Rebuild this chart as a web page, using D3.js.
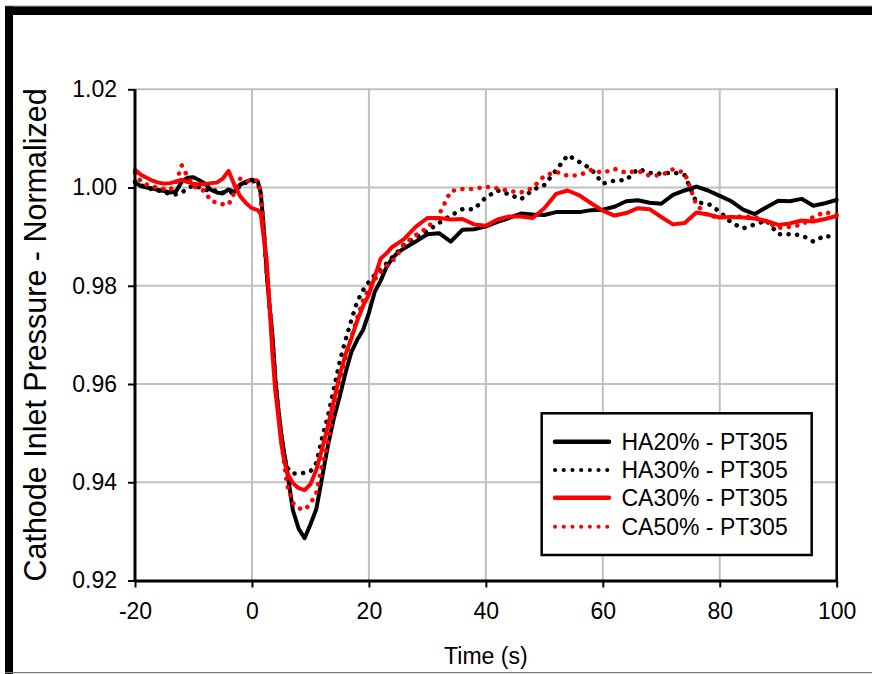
<!DOCTYPE html>
<html>
<head>
<meta charset="utf-8">
<script src="https://cdn.jsdelivr.net/npm/d3@7"></script>
<style>
body { margin: 0; background: #fff; }
svg text { font-family: "Liberation Sans", Arial, sans-serif; fill: #000; }
</style>
</head>
<body>
<div id="chart"></div>
<script>
// time axis (s), shared by all four series
var time = [-20, -19, -18, -17, -16, -15, -14, -13, -12, -11, -10, -9, -8, -7, -6, -5, -4, -3, -2, -1, 0, 1,
	1.5, 2, 2.5, 3, 3.5, 4, 4.5, 5, 5.5, 6, 7, 8, 9, 10, 11, 12, 13, 14, 15, 16, 17, 18, 19, 20, 21, 22, 23, 24, 25, 26,
	28, 30, 32, 34, 36, 38, 40, 42, 44, 46, 48, 50, 52, 54, 56, 58, 60, 62, 64, 66, 68, 70, 72, 74, 76, 78, 80,
	82, 84, 86, 88, 90, 92, 94, 96, 98, 100];

var ha20 = [1.0010, 1.0003, 1.0000, 0.9998, 0.9995, 0.9993, 0.9990, 0.9992, 1.0012, 1.0020, 1.0021, 1.0015, 1.0008,
	0.9995, 0.9990, 0.9988, 0.9996, 0.9991, 1.0006, 1.0012, 1.0016, 1.0012,
	0.9990, 0.9920, 0.9830, 0.9760, 0.9700, 0.9610, 0.9550, 0.9500, 0.9460, 0.9425, 0.9343, 0.9305, 0.9286, 0.9314,
	0.9345, 0.9410, 0.9475, 0.9530, 0.9574, 0.9623, 0.9665, 0.9690, 0.9710, 0.9745, 0.9788, 0.9810, 0.9838, 0.9856,
	0.9868, 0.9876,
	0.9890, 0.9905, 0.9907, 0.9890, 0.9914, 0.9915, 0.9921, 0.9930, 0.9938, 0.9947, 0.9945, 0.9944, 0.9950, 0.9950,
	0.9950, 0.9954, 0.9955, 0.9961, 0.9972, 0.9974, 0.9969, 0.9967, 0.9985, 0.9994, 1.0002, 0.9994, 0.9983,
	0.9972, 0.9955, 0.9946, 0.9960, 0.9973, 0.9972, 0.9977, 0.9963, 0.9968, 0.9975];

var ha30 = [1.0012, 1.0005, 1.0000, 0.9996, 0.9994, 0.9990, 0.9987, 0.9986, 0.9990, 0.9998, 1.0005, 1.0000, 0.9996,
	0.9992, 0.9995, 0.9990, 0.9988, 0.9993, 1.0003, 1.0010, 1.0014, 1.0010,
	0.9985, 0.9915, 0.9830, 0.9760, 0.9690, 0.9610, 0.9545, 0.9495, 0.9455, 0.9430, 0.9418, 0.9418, 0.9419, 0.9422,
	0.9439, 0.9490, 0.9535, 0.9590, 0.9645, 0.9690, 0.9730, 0.9768, 0.9791, 0.9808, 0.9822, 0.9834, 0.9845, 0.9858,
	0.9870, 0.9884,
	0.9898, 0.9912, 0.9928, 0.9943, 0.9956, 0.9956, 0.9980, 0.9994, 0.9986, 0.9976, 0.9995, 1.0005, 1.0035, 1.0066,
	1.0052, 1.0038, 1.0008, 1.0014, 1.0015, 1.0038, 1.0030, 1.0028, 1.0031, 1.0025, 0.9970, 0.9967, 0.9951,
	0.9928, 0.9917, 0.9925, 0.9933, 0.9905, 0.9905, 0.9903, 0.9890, 0.9902, 0.9897];

var ca30 = [1.0036, 1.0026, 1.0020, 1.0014, 1.0010, 1.0008, 1.0009, 1.0012, 1.0016, 1.0011, 1.0008, 1.0006, 1.0007,
	1.0009, 1.0010, 1.0018, 1.0034, 1.0005, 0.9982, 0.9968, 0.9958, 0.9954,
	0.9946, 0.9900, 0.9855, 0.9760, 0.9662, 0.9585, 0.9535, 0.9480, 0.9445, 0.9420, 0.9398, 0.9388, 0.9384, 0.9396,
	0.9425, 0.9468, 0.9515, 0.9566, 0.9618, 0.9660, 0.9693, 0.9729, 0.9759, 0.9782, 0.9818, 0.9855, 0.9866, 0.9879,
	0.9887, 0.9895,
	0.9920, 0.9938, 0.9938, 0.9935, 0.9936, 0.9925, 0.9922, 0.9935, 0.9941, 0.9941, 0.9938, 0.9958, 0.9987, 0.9994,
	0.9984, 0.9968, 0.9953, 0.9943, 0.9948, 0.9958, 0.9956, 0.9940, 0.9925, 0.9928, 0.9949, 0.9945, 0.9939,
	0.9940, 0.9939, 0.9937, 0.9932, 0.9924, 0.9927, 0.9933, 0.9931, 0.9936, 0.9942];

var ca50 = [1.0030, 1.0012, 1.0006, 1.0002, 1.0000, 0.9997, 0.9995, 1.0010, 1.0045, 1.0022, 1.0002, 0.9998, 0.9992,
	0.9972, 0.9970, 0.9966, 0.9965, 0.9990, 1.0018, 1.0012, 1.0015, 1.0014,
	0.9990, 0.9920, 0.9840, 0.9765, 0.9685, 0.9605, 0.9540, 0.9490, 0.9440, 0.9395, 0.9358, 0.9347, 0.9344, 0.9356,
	0.9378, 0.9435, 0.9480, 0.9550, 0.9610, 0.9652, 0.9695, 0.9735, 0.9770, 0.9795, 0.9813, 0.9828, 0.9839, 0.9850,
	0.9865, 0.9885,
	0.9903, 0.9918, 0.9945, 0.9993, 0.9997, 0.9997, 1.0002, 0.9998, 0.9993, 0.9990, 0.9999, 1.0024, 1.0032, 1.0024,
	1.0025, 1.0036, 1.0030, 1.0038, 1.0030, 1.0034, 1.0024, 1.0025, 1.0037, 1.0030, 0.9965, 0.9942, 0.9940,
	0.9940, 0.9941, 0.9940, 0.9930, 0.9918, 0.9920, 0.9924, 0.9940, 0.9950, 0.9944];

var seriesNames = ["HA20% - PT305", "HA30% - PT305", "CA30% - PT305", "CA50% - PT305"];
var seriesValues = [ha20, ha30, ca30, ca50];
var seriesColors = ["#000000", "#000000", "#ff0000", "#ff0000"];
var seriesDotted = [false, true, false, true];

var xTicks = [-20, 0, 20, 40, 60, 80, 100];
var yTicks = [0.92, 0.94, 0.96, 0.98, 1.00, 1.02];

var width = 872, height = 674;
var plot = { left: 135, right: 836.7, top: 89.3, bottom: 580.5 };

var svg = d3.select("#chart").append("svg")
	.attr("width", width)
	.attr("height", height);

// outer frame: thick black bars top and left, thin grey edges
svg.append("rect").attr("x", 5).attr("y", 5.5).attr("width", width - 5).attr("height", 1.2).attr("fill", "#999");
svg.append("rect").attr("x", 5).attr("y", 6.5).attr("width", width - 5).attr("height", 8.5).attr("fill", "#000");
svg.append("rect").attr("x", 5).attr("y", 6.5).attr("width", 8).attr("height", height - 6.5).attr("fill", "#000");
svg.append("rect").attr("x", 5).attr("y", 672).attr("width", width - 5).attr("height", 1.2).attr("fill", "#777");

var x = d3.scaleLinear().domain([-20, 100]).range([plot.left, plot.right]);
var y = d3.scaleLinear().domain([0.92, 1.02]).range([plot.bottom, plot.top]);

// grid
svg.append("g").selectAll("line")
	.data(xTicks.slice(1, -1))
	.enter().append("line")
	.attr("x1", function (d) { return x(d); })
	.attr("x2", function (d) { return x(d); })
	.attr("y1", plot.top)
	.attr("y2", plot.bottom)
	.attr("stroke", "#c0c0c0")
	.attr("stroke-width", 2);

svg.append("g").selectAll("line")
	.data(yTicks.slice(1))
	.enter().append("line")
	.attr("x1", plot.left)
	.attr("x2", plot.right)
	.attr("y1", function (d) { return y(d); })
	.attr("y2", function (d) { return y(d); })
	.attr("stroke", "#c0c0c0")
	.attr("stroke-width", 2);

// right border of plot area
svg.append("line")
	.attr("x1", plot.right).attr("x2", plot.right)
	.attr("y1", plot.top - 1).attr("y2", plot.bottom)
	.attr("stroke", "#000").attr("stroke-width", 2.5);

// series
var line = d3.line()
	.x(function (d) { return x(d[0]); })
	.y(function (d) { return y(d[1]); });

seriesValues.forEach(function (vals, i) {
	var pts = time.map(function (t, j) { return [t, vals[j]]; });
	svg.append("path")
		.datum(pts)
		.attr("d", line)
		.attr("fill", "none")
		.attr("stroke", seriesColors[i])
		.attr("stroke-width", seriesDotted[i] ? 4.5 : 4)
		.attr("stroke-linecap", "round")
		.attr("stroke-linejoin", "round")
		.attr("stroke-dasharray", seriesDotted[i] ? "0.1 8.5" : null);
});

// axes
var yAxis = svg.append("g")
	.attr("transform", "translate(" + plot.left + ",0)")
	.call(d3.axisLeft(y).tickValues(yTicks).tickSize(7).tickSizeOuter(0).tickPadding(11)
		.tickFormat(function (d) { return d.toFixed(2); }));

var xAxis = svg.append("g")
	.attr("transform", "translate(0," + plot.bottom + ")")
	.call(d3.axisBottom(x).tickValues(xTicks).tickSize(7).tickSizeOuter(0).tickPadding(15)
		.tickFormat(function (d) { return String(d); }));

[yAxis, xAxis].forEach(function (ax) {
	ax.select(".domain").attr("stroke", "#000").attr("stroke-width", 3);
	ax.selectAll(".tick line").attr("stroke", "#000").attr("stroke-width", 2);
	ax.selectAll(".tick text").attr("font-size", 23).attr("font-family", null).attr("fill", "#000");
});
yAxis.select(".domain").attr("d", "M0," + (plot.bottom + 1.5) + "V" + plot.top);

// axis titles
svg.append("text")
	.attr("x", (plot.left + plot.right) / 2)
	.attr("y", 664)
	.attr("text-anchor", "middle")
	.attr("font-size", 23)
	.text("Time (s)");

svg.append("text")
	.attr("transform", "translate(46," + (plot.top + plot.bottom) / 2 + ") rotate(-90)")
	.attr("text-anchor", "middle")
	.attr("font-size", 30.5)
	.text("Cathode Inlet Pressure - Normalized");

// legend
var legend = svg.append("g");
legend.append("rect")
	.attr("x", 541.7).attr("y", 413.3)
	.attr("width", 270).attr("height", 141.7)
	.attr("fill", "#fff")
	.attr("stroke", "#000")
	.attr("stroke-width", 2.5);

var rowY = [441.7, 470, 497.7, 526.7];
seriesNames.forEach(function (name, i) {
	legend.append("line")
		.attr("x1", 555).attr("x2", 609)
		.attr("y1", rowY[i]).attr("y2", rowY[i])
		.attr("stroke", seriesColors[i])
		.attr("stroke-width", seriesDotted[i] ? 4 : 4.5)
		.attr("stroke-linecap", "round")
		.attr("stroke-dasharray", seriesDotted[i] ? "0.1 8.6" : null);
	legend.append("text")
		.attr("x", 621.5)
		.attr("y", rowY[i] + 8)
		.attr("font-size", 23)
		.text(name);
});
</script>
</body>
</html>
